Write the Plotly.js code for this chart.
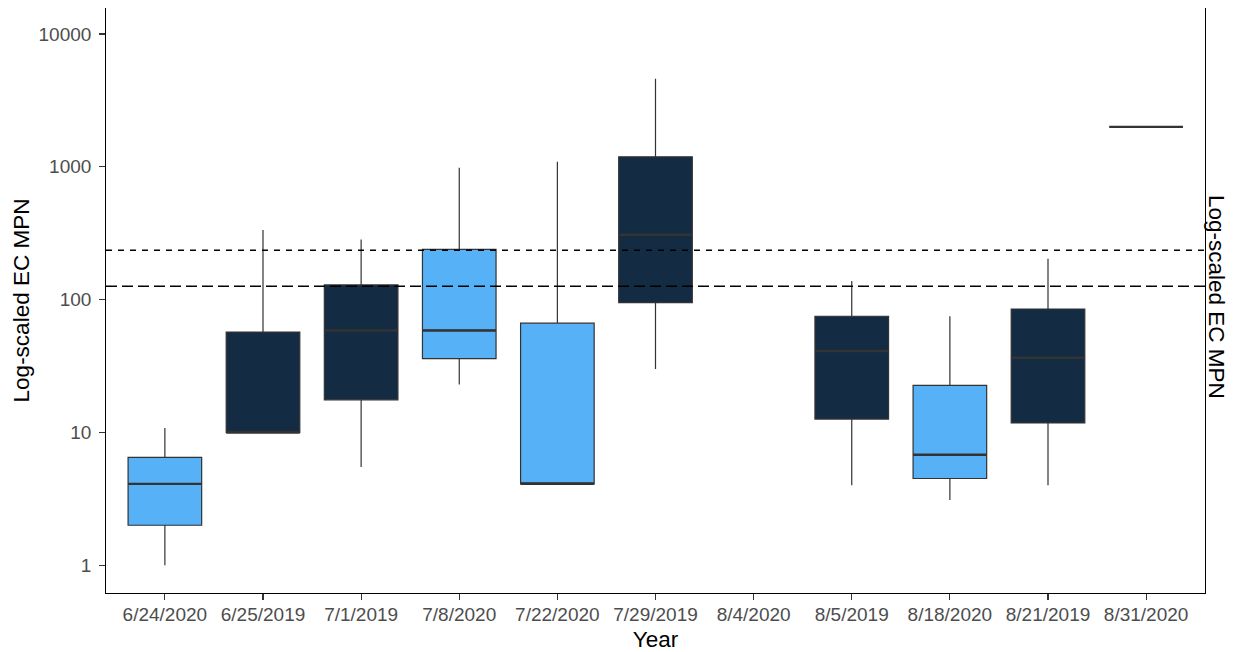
<!DOCTYPE html>
<html>
<head>
<meta charset="utf-8">
<script src="https://cdn.plot.ly/plotly-3.0.1.min.js"></script>
<style>
  html, body { margin: 0; padding: 0; background: #ffffff; }
  #chart { width: 1235px; height: 652px; }
</style>
</head>
<body>
<div id="chart"></div>
<script>
// Sampling dates, in axis order
const categories = ['6/24/2020', '6/25/2019', '7/1/2019', '7/8/2020', '7/22/2020', '7/29/2019',
                    '8/4/2020', '8/5/2019', '8/18/2020', '8/21/2019', '8/31/2020'];

// 2019 sampling days: box summary of EC MPN
const dates2019  = ['6/25/2019', '7/1/2019', '7/29/2019', '8/5/2019', '8/21/2019'];
const lower2019  = [10, 5.5, 30, 4, 4];
const q1_2019    = [10, 17.6, 95, 12.6, 11.8];
const median2019 = [10, 58.6, 308, 41, 36.5];
const q3_2019    = [57, 129, 1190, 75, 85];
const upper2019  = [334, 284, 4600, 138, 203];

// 2020 sampling days
const dates2020  = ['6/24/2020', '7/8/2020', '7/22/2020', '8/18/2020', '8/31/2020'];
const lower2020  = [1, 23, 4.1, 3.1, 2000];
const q1_2020    = [2, 36, 4.1, 4.5, 2000];
const median2020 = [4.1, 58.6, 4.1, 6.8, 2000];
const q3_2020    = [6.5, 239, 66.5, 22.6, 2000];
const upper2020  = [10.8, 984, 1090, 75, 2000];

// Reference levels (single-sample and geometric-mean thresholds)
const singleSampleLimit = 235;
const geoMeanLimit = 126;

// Y axis ticks
const yTickVals = [1, 10, 100, 1000, 10000];
const yTickText = ['1', '10', '100', '1000', '10000'];

const color2019 = '#132B43';
const color2020 = '#56B1F7';
const outline = '#333333';
const boxWidth = 0.75;
const fontFamily = '"Liberation Sans", Arial, sans-serif';

function boxTrace(name, x, lo, q1, med, q3, hi, fill) {
  return {
    type: 'box',
    name: name,
    x: x,
    lowerfence: lo,
    q1: q1,
    median: med,
    q3: q3,
    upperfence: hi,
    width: boxWidth,
    whiskerwidth: 0,
    fillcolor: fill,
    line: { color: outline, width: 1.2 },
    boxpoints: false,
    hoverinfo: 'skip',
    showlegend: false
  };
}

const traces = [
  boxTrace('2019', dates2019, lower2019, q1_2019, median2019, q3_2019, upper2019, color2019),
  boxTrace('2020', dates2020, lower2020, q1_2020, median2020, q3_2020, upper2020, color2020)
];

// Thicker median bars drawn over each box
const shapes = [];
function addMedians(dates, medians) {
  dates.forEach(function (d, i) {
    const idx = categories.indexOf(d);
    shapes.push({
      type: 'line', xref: 'x', yref: 'y',
      x0: idx - boxWidth / 2, x1: idx + boxWidth / 2,
      y0: medians[i], y1: medians[i],
      line: { color: outline, width: 2.4 }
    });
  });
}
addMedians(dates2019, median2019);
addMedians(dates2020, median2020);

// Horizontal threshold lines across the panel
shapes.push({
  type: 'line', xref: 'paper', yref: 'y', x0: 0, x1: 1,
  y0: singleSampleLimit, y1: singleSampleLimit,
  line: { color: '#000000', width: 1.5, dash: '6px,6px' }
});
shapes.push({
  type: 'line', xref: 'paper', yref: 'y', x0: 0, x1: 1,
  y0: geoMeanLimit, y1: geoMeanLimit,
  line: { color: '#000000', width: 1.5, dash: '11px,5px' }
});

const layout = {
  width: 1235,
  height: 652,
  margin: { l: 106, r: 30, t: 8, b: 59 },
  paper_bgcolor: '#ffffff',
  plot_bgcolor: '#ffffff',
  font: { family: fontFamily, color: '#000000' },
  boxmode: 'overlay',
  showlegend: false,
  xaxis: {
    type: 'category',
    categoryorder: 'array',
    categoryarray: categories,
    range: [-0.6, categories.length - 0.4],
    showgrid: false,
    zeroline: false,
    showline: true,
    linecolor: '#000000',
    linewidth: 1.3,
    ticks: 'outside',
    ticklen: 5.5,
    tickwidth: 1.1,
    tickcolor: outline,
    ticklabelstandoff: -2,
    tickfont: { family: fontFamily, size: 19, color: '#4D4D4D' },
    title: { text: 'Year', font: { family: fontFamily, size: 22.5, color: '#000000' }, standoff: 7 },
    automargin: false
  },
  yaxis: {
    type: 'log',
    range: [-0.209, 4.196],
    tickvals: yTickVals,
    ticktext: yTickText,
    showgrid: false,
    zeroline: false,
    showline: true,
    mirror: true,
    linecolor: '#000000',
    linewidth: 1.3,
    ticks: 'outside',
    ticklen: 5.5,
    tickwidth: 1.1,
    tickcolor: outline,
    ticklabelstandoff: 4,
    tickfont: { family: fontFamily, size: 19, color: '#4D4D4D' },
    title: { text: 'Log-scaled EC MPN', font: { family: fontFamily, size: 22.5, color: '#000000' }, standoff: 2 },
    automargin: false
  },
  shapes: shapes,
  annotations: [{
    text: 'Log-scaled EC MPN',
    xref: 'paper', yref: 'paper',
    x: 1, y: 0.5,
    xanchor: 'left', yanchor: 'middle',
    xshift: -3, yshift: 4,
    textangle: 90,
    showarrow: false,
    font: { family: fontFamily, size: 22.5, color: '#000000' }
  }]
};

Plotly.newPlot('chart', traces, layout, { displayModeBar: false, staticPlot: true });
</script>
</body>
</html>
